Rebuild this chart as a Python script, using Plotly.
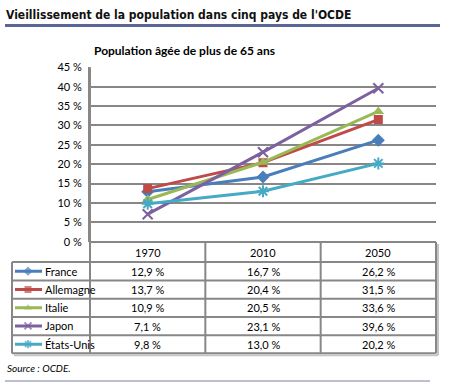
import plotly.graph_objects as go

# ---------------- data ----------------
years = ["1970", "2010", "2050"]
countries = ["France", "Allemagne", "Italie", "Japon", "États-Unis"]
france = [12.9, 16.7, 26.2]
allemagne = [13.7, 20.4, 31.5]
italie = [10.9, 20.5, 33.6]
japon = [7.1, 23.1, 39.6]
etats_unis = [9.8, 13.0, 20.2]
series = [france, allemagne, italie, japon, etats_unis]
y_ticks = [0, 5, 10, 15, 20, 25, 30, 35, 40, 45]

# ---------------- style ----------------
W, H = 449, 385
colors = ["#4A7EBB", "#BE4B48", "#98B954", "#7D60A0", "#46AAC5"]
symbols = ["diamond", "square", "triangle-up", "x-thin-open", "asterisk-open"]
msizes = [10, 9, 10, 10, 10]
GRID = "#878787"
FONT = "Lato, Carlito, 'Open Sans', sans-serif"


def px(x):
    return x / W


def py(y):
    return 1 - y / H


PLOT_L, PLOT_R = 90, 436
PLOT_T, PLOT_B = 67.3, 241.7
LEG_L = 12
ROW_TOP = [242, 262, 280.5, 298.8, 317.1, 335.3, 353.3]

fig = go.Figure()

# main lines
for i, (name, vals) in enumerate(zip(countries, series)):
    is_open = symbols[i].endswith("open")
    fig.add_trace(go.Scatter(
        x=list(range(len(years))), y=vals, mode="lines+markers", name=name,
        line=dict(color=colors[i], width=3),
        marker=dict(symbol=symbols[i], size=msizes[i], color=colors[i],
                    line=dict(color=colors[i], width=2 if is_open else 0)),
        xaxis="x", yaxis="y", showlegend=False, hoverinfo="skip"))

# legend keys in the table's first column (overlay axis in pixel units)
for i, name in enumerate(countries):
    is_open = symbols[i].endswith("open")
    fig.add_trace(go.Scatter(
        x=[3, 16, 30], y=[i + 0.5] * 3, mode="lines+markers",
        line=dict(color=colors[i], width=3),
        marker=dict(symbol=symbols[i], size=[0, 7, 0], color=colors[i],
                    line=dict(color=colors[i], width=2 if is_open else 0)),
        xaxis="x2", yaxis="y2", showlegend=False, hoverinfo="skip"))

shapes = []
annotations = []

# table grid lines
line = dict(color=GRID, width=2)
shapes.append(dict(type="line", xref="paper", yref="paper",
                   x0=px(PLOT_L), x1=px(PLOT_R), y0=py(ROW_TOP[0]), y1=py(ROW_TOP[0]), line=line))
for yy in ROW_TOP[1:]:
    shapes.append(dict(type="line", xref="paper", yref="paper",
                       x0=px(LEG_L), x1=px(PLOT_R), y0=py(yy), y1=py(yy), line=line))
col_w = (PLOT_R - PLOT_L) / len(years)
for k in range(len(years) + 1):
    xx = PLOT_L + k * col_w
    shapes.append(dict(type="line", xref="paper", yref="paper",
                       x0=px(xx), x1=px(xx), y0=py(ROW_TOP[0] if k else PLOT_T), y1=py(ROW_TOP[-1]),
                       line=line))
shapes.append(dict(type="line", xref="paper", yref="paper",
                   x0=px(LEG_L), x1=px(LEG_L), y0=py(ROW_TOP[1]), y1=py(ROW_TOP[-1]), line=line))
# subtle shadow
shapes.append(dict(type="line", xref="paper", yref="paper",
                   x0=px(LEG_L + 2), x1=px(PLOT_R + 2), y0=py(ROW_TOP[-1] + 2), y1=py(ROW_TOP[-1] + 2),
                   line=dict(color="#C4C4C4", width=2)))
shapes.append(dict(type="line", xref="paper", yref="paper",
                   x0=px(PLOT_R + 2), x1=px(PLOT_R + 2), y0=py(ROW_TOP[0] + 2), y1=py(ROW_TOP[-1] + 2),
                   line=dict(color="#C4C4C4", width=2)))

cell_font = dict(size=11, color="black", family=FONT)
for j, yr in enumerate(years):
    annotations.append(dict(x=j, xref="x", y=py((ROW_TOP[0] + ROW_TOP[1]) / 2), yref="paper",
                            xanchor="center", yanchor="middle",
                            text=yr, showarrow=False, font=cell_font))
for i, vals in enumerate(series):
    yc = (ROW_TOP[i + 1] + ROW_TOP[i + 2]) / 2
    for j, v in enumerate(vals):
        annotations.append(dict(x=j, xref="x", y=py(yc), yref="paper",
                                xanchor="center", yanchor="middle",
                                text=f"{v:.1f}".replace(".", ",") + " %", showarrow=False,
                                font=cell_font))
    annotations.append(dict(x=31, xref="x2", y=i + 0.5, yref="y2", xanchor="left", yanchor="middle",
                            text=countries[i], showarrow=False, font=cell_font))

# titles
annotations.append(dict(x=px(4), y=py(15), xref="paper", yref="paper", xanchor="left", yanchor="middle",
                        text="<b>Vieillissement de la population dans cinq pays de l'OCDE</b>",
                        showarrow=False,
                        font=dict(size=12, color="#111111",
                                  family="'DejaVu Sans Condensed', 'Roboto Condensed', 'Liberation Sans Narrow', Roboto, sans-serif")))
shapes.append(dict(type="rect", xref="paper", yref="paper", x0=px(5), x1=px(440),
                   y0=py(27), y1=py(24), fillcolor="#5B6696", line=dict(width=0)))
annotations.append(dict(x=px(92), y=py(50), xref="paper", yref="paper", xanchor="left", yanchor="middle",
                        text="<b>Population âgée de plus de 65 ans</b>", showarrow=False,
                        font=dict(size=12, color="black", family=FONT)))
annotations.append(dict(x=px(5), y=py(368), xref="paper", yref="paper", xanchor="left", yanchor="middle",
                        text="<i>Source : OCDE.</i>", showarrow=False,
                        font=dict(size=10, color="black", family=FONT)))
shapes.append(dict(type="line", xref="paper", yref="paper", x0=px(5), x1=px(430),
                   y0=py(381), y1=py(381), line=dict(color="#7B80A6", width=1)))

fig.update_layout(
    width=W, height=H, margin=dict(l=0, r=0, t=0, b=0, autoexpand=False),
    paper_bgcolor="white", plot_bgcolor="white",
    shapes=shapes, annotations=annotations,
    xaxis=dict(domain=[px(PLOT_L), px(PLOT_R)], range=[-0.5, len(years) - 0.5],
               showticklabels=False, showgrid=False, zeroline=False, ticks="", fixedrange=True),
    yaxis=dict(domain=[py(PLOT_B), py(PLOT_T)], range=[0, 45], tickvals=y_ticks,
               ticktext=[f"{t} %" for t in y_ticks], showgrid=True, gridcolor=GRID, gridwidth=2,
               zeroline=False, showline=True, linecolor=GRID, linewidth=2,
               ticks="outside", ticklen=4, tickcolor="rgba(0,0,0,0)",
               tickfont=dict(size=11, color="black", family=FONT), fixedrange=True),
    xaxis2=dict(domain=[px(LEG_L), px(PLOT_L)], range=[0, PLOT_L - LEG_L], visible=False,
                anchor="y2", fixedrange=True),
    yaxis2=dict(domain=[py(ROW_TOP[-1]), py(ROW_TOP[1])], range=[len(countries), 0], visible=False,
                anchor="x2", fixedrange=True),
    showlegend=False,
)

fig.write_html("out.html", config={"displayModeBar": False},
               post_script="document.body.style.margin='0';document.body.style.overflow='hidden';")
